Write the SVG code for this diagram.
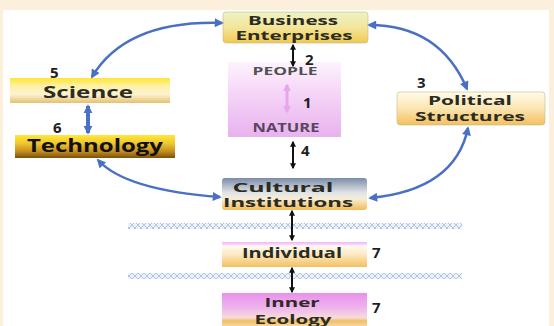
<svg xmlns="http://www.w3.org/2000/svg" width="554" height="326" viewBox="0 0 554 326">
<style>
.t{font-family:"Open Sans","DejaVu Sans",sans-serif;font-weight:700;fill:#2b2b22;}
.n{font-family:"Open Sans","DejaVu Sans",sans-serif;font-weight:700;fill:#1e1e1e;font-size:15px;}
.blue{fill:none;stroke:#4a70c4;stroke-width:2.5;marker-start:url(#bh);marker-end:url(#bh);}
.blk{fill:none;stroke:#111;stroke-width:2;marker-start:url(#kh);marker-end:url(#kh);}
.box{stroke:#c8b880;stroke-width:0.6;}
</style>
<defs>
<marker id="bh" viewBox="0 0 10 10" refX="8" refY="5" markerWidth="10" markerHeight="9" markerUnits="userSpaceOnUse" orient="auto-start-reverse"><path d="M0,0 L10,5 L0,10 z" fill="#4a70c4"/></marker>
<marker id="bh2" viewBox="0 0 10 10" refX="8" refY="5" markerWidth="9" markerHeight="11" markerUnits="userSpaceOnUse" orient="auto-start-reverse"><path d="M0,0 L10,5 L0,10 z" fill="#4a70c4"/></marker>
<marker id="kh" viewBox="0 0 10 10" refX="8" refY="5" markerWidth="6" markerHeight="6" markerUnits="userSpaceOnUse" orient="auto-start-reverse"><path d="M0,0 L10,5 L0,10 z" fill="#111"/></marker>
<marker id="ph" viewBox="0 0 10 10" refX="8" refY="5" markerWidth="8" markerHeight="9" markerUnits="userSpaceOnUse" orient="auto-start-reverse"><path d="M0,0 L10,5 L0,10 z" fill="#e8a6ea"/></marker>
<linearGradient id="gBus" x1="0" y1="0" x2="0" y2="1"><stop offset="0" stop-color="#eef2c6"/><stop offset="0.5" stop-color="#f3e69a"/><stop offset="1" stop-color="#f2c850"/></linearGradient>
<linearGradient id="gPeo" x1="0" y1="0" x2="0" y2="1"><stop offset="0" stop-color="#fdf3fd"/><stop offset="0.4" stop-color="#f6d6f8"/><stop offset="1" stop-color="#e8b2ee"/></linearGradient>
<linearGradient id="gSci" x1="0" y1="0" x2="0" y2="1"><stop offset="0" stop-color="#ffe630"/><stop offset="0.3" stop-color="#fdf0a0"/><stop offset="0.65" stop-color="#fcf3d2"/><stop offset="1" stop-color="#e6c070"/></linearGradient>
<linearGradient id="gTec" x1="0" y1="0" x2="0" y2="1"><stop offset="0" stop-color="#ffe838"/><stop offset="0.35" stop-color="#f0c830"/><stop offset="0.7" stop-color="#c89020"/><stop offset="1" stop-color="#7a5010"/></linearGradient>
<linearGradient id="gPol" x1="0" y1="0" x2="0" y2="1"><stop offset="0" stop-color="#fffcec"/><stop offset="0.5" stop-color="#fbe5b0"/><stop offset="1" stop-color="#f3c060"/></linearGradient>
<linearGradient id="gCul" x1="0" y1="0" x2="0" y2="1"><stop offset="0" stop-color="#7a8ca6"/><stop offset="0.45" stop-color="#dfe2e6"/><stop offset="0.65" stop-color="#f7eed8"/><stop offset="1" stop-color="#f2bc58"/></linearGradient>
<linearGradient id="gInd" x1="0" y1="0" x2="0" y2="1"><stop offset="0" stop-color="#f2b4f2"/><stop offset="0.1" stop-color="#f8d8f8"/><stop offset="0.16" stop-color="#fffaf2"/><stop offset="0.5" stop-color="#fde8c0"/><stop offset="1" stop-color="#f3c060"/></linearGradient>
<linearGradient id="gInn" x1="0" y1="0" x2="0" y2="1"><stop offset="0" stop-color="#e890ea"/><stop offset="0.45" stop-color="#efb4ee"/><stop offset="0.75" stop-color="#f6dcd8"/><stop offset="0.85" stop-color="#f0c060"/><stop offset="1" stop-color="#f6d8a0"/></linearGradient>
<pattern id="hatch" x="0" y="0" width="6" height="6" patternUnits="userSpaceOnUse"><rect width="6" height="6" fill="#eef2fa"/><path d="M0,3 L3,0 L6,3 L3,6 z" fill="none" stroke="#b4c4e0" stroke-width="1"/></pattern>
</defs>
<rect x="0" y="0" width="554" height="326" fill="#fcf0dc"/>
<rect x="3" y="10" width="546" height="316" fill="#ffffff"/>
<g id="separators">
<rect x="128" y="223" width="334" height="6" fill="url(#hatch)"/>
<rect x="128" y="273" width="334" height="6" fill="url(#hatch)"/>
</g>
<g id="business">
<rect class="box" x="223" y="12" width="145" height="31" rx="3" fill="url(#gBus)"/>
<text class="t" x="293" y="25" font-size="13" text-anchor="middle" textLength="90" lengthAdjust="spacingAndGlyphs">Business</text>
<text class="t" x="294" y="40" font-size="13" text-anchor="middle" textLength="117" lengthAdjust="spacingAndGlyphs">Enterprises</text>
</g>
<g id="people-nature">
<rect x="228" y="62" width="113" height="75" fill="url(#gPeo)"/>
<text class="t" x="285" y="75" font-size="11" text-anchor="middle" textLength="65" lengthAdjust="spacingAndGlyphs" style="fill:#505050">PEOPLE</text>
<text class="t" x="286" y="132" font-size="12" text-anchor="middle" textLength="67" lengthAdjust="spacingAndGlyphs" style="fill:#5a4560">NATURE</text>
</g>
<g id="science">
<rect x="10" y="78" width="160" height="25" fill="url(#gSci)"/>
<text class="t" x="88" y="98" font-size="15.5" text-anchor="middle" textLength="90" lengthAdjust="spacingAndGlyphs">Science</text>
</g>
<g id="technology">
<rect x="15" y="135" width="160" height="23" fill="url(#gTec)"/>
<text class="t" x="95" y="152" font-size="17" text-anchor="middle" textLength="136" lengthAdjust="spacingAndGlyphs" style="fill:#111">Technology</text>
</g>
<g id="political">
<rect class="box" x="397" y="92" width="148" height="33" rx="3" fill="url(#gPol)"/>
<text class="t" x="470" y="105" font-size="13" text-anchor="middle" textLength="84" lengthAdjust="spacingAndGlyphs">Political</text>
<text class="t" x="470" y="121" font-size="13" text-anchor="middle" textLength="110" lengthAdjust="spacingAndGlyphs">Structures</text>
</g>
<g id="cultural">
<rect x="222" y="178" width="145" height="32" rx="3" fill="url(#gCul)"/>
<text class="t" x="283" y="192" font-size="13" text-anchor="middle" textLength="101" lengthAdjust="spacingAndGlyphs">Cultural</text>
<text class="t" x="288" y="207" font-size="13" text-anchor="middle" textLength="130" lengthAdjust="spacingAndGlyphs">Institutions</text>
</g>
<g id="individual">
<rect x="222" y="242" width="145" height="25" fill="url(#gInd)"/>
<text class="t" x="292" y="258" font-size="13.5" text-anchor="middle" textLength="100" lengthAdjust="spacingAndGlyphs">Individual</text>
</g>
<g id="inner-ecology">
<rect x="222" y="293" width="145" height="33" fill="url(#gInn)"/>
<text class="t" x="292" y="307" font-size="13" text-anchor="middle" textLength="55" lengthAdjust="spacingAndGlyphs">Inner</text>
<text class="t" x="293" y="324" font-size="13" text-anchor="middle" textLength="77" lengthAdjust="spacingAndGlyphs">Ecology</text>
</g>
<g id="connectors">
<path class="blue" d="M92,77 Q126,20 222,23"/>
<path class="blue" d="M369,25 Q440,25 467,89"/>
<path class="blue" d="M468,128 Q455,190 370,198"/>
<path class="blue" d="M98,160 Q125,190 220,197"/>
<path d="M88,106 L88,133" fill="none" stroke="#4a70c4" stroke-width="4" marker-start="url(#bh2)" marker-end="url(#bh2)"/>
<path d="M287,85 L287,112" fill="none" stroke="#e8a6ea" stroke-width="3" marker-start="url(#ph)" marker-end="url(#ph)"/>
<path class="blk" d="M293,45 L293,66"/>
<path class="blk" d="M293,142 L293,168"/>
<path class="blk" d="M292,211 L292,240"/>
<path class="blk" d="M292,268 L292,292"/>
</g>
<g id="labels">
<text class="n" x="303" y="108">1</text>
<text class="n" x="305" y="65">2</text>
<text class="n" x="417" y="88" font-size="14">3</text>
<text class="n" x="301" y="156">4</text>
<text class="n" x="50" y="78">5</text>
<text class="n" x="53" y="133">6</text>
<text class="n" x="372" y="258">7</text>
<text class="n" x="372" y="313">7</text>
</g>
</svg>
